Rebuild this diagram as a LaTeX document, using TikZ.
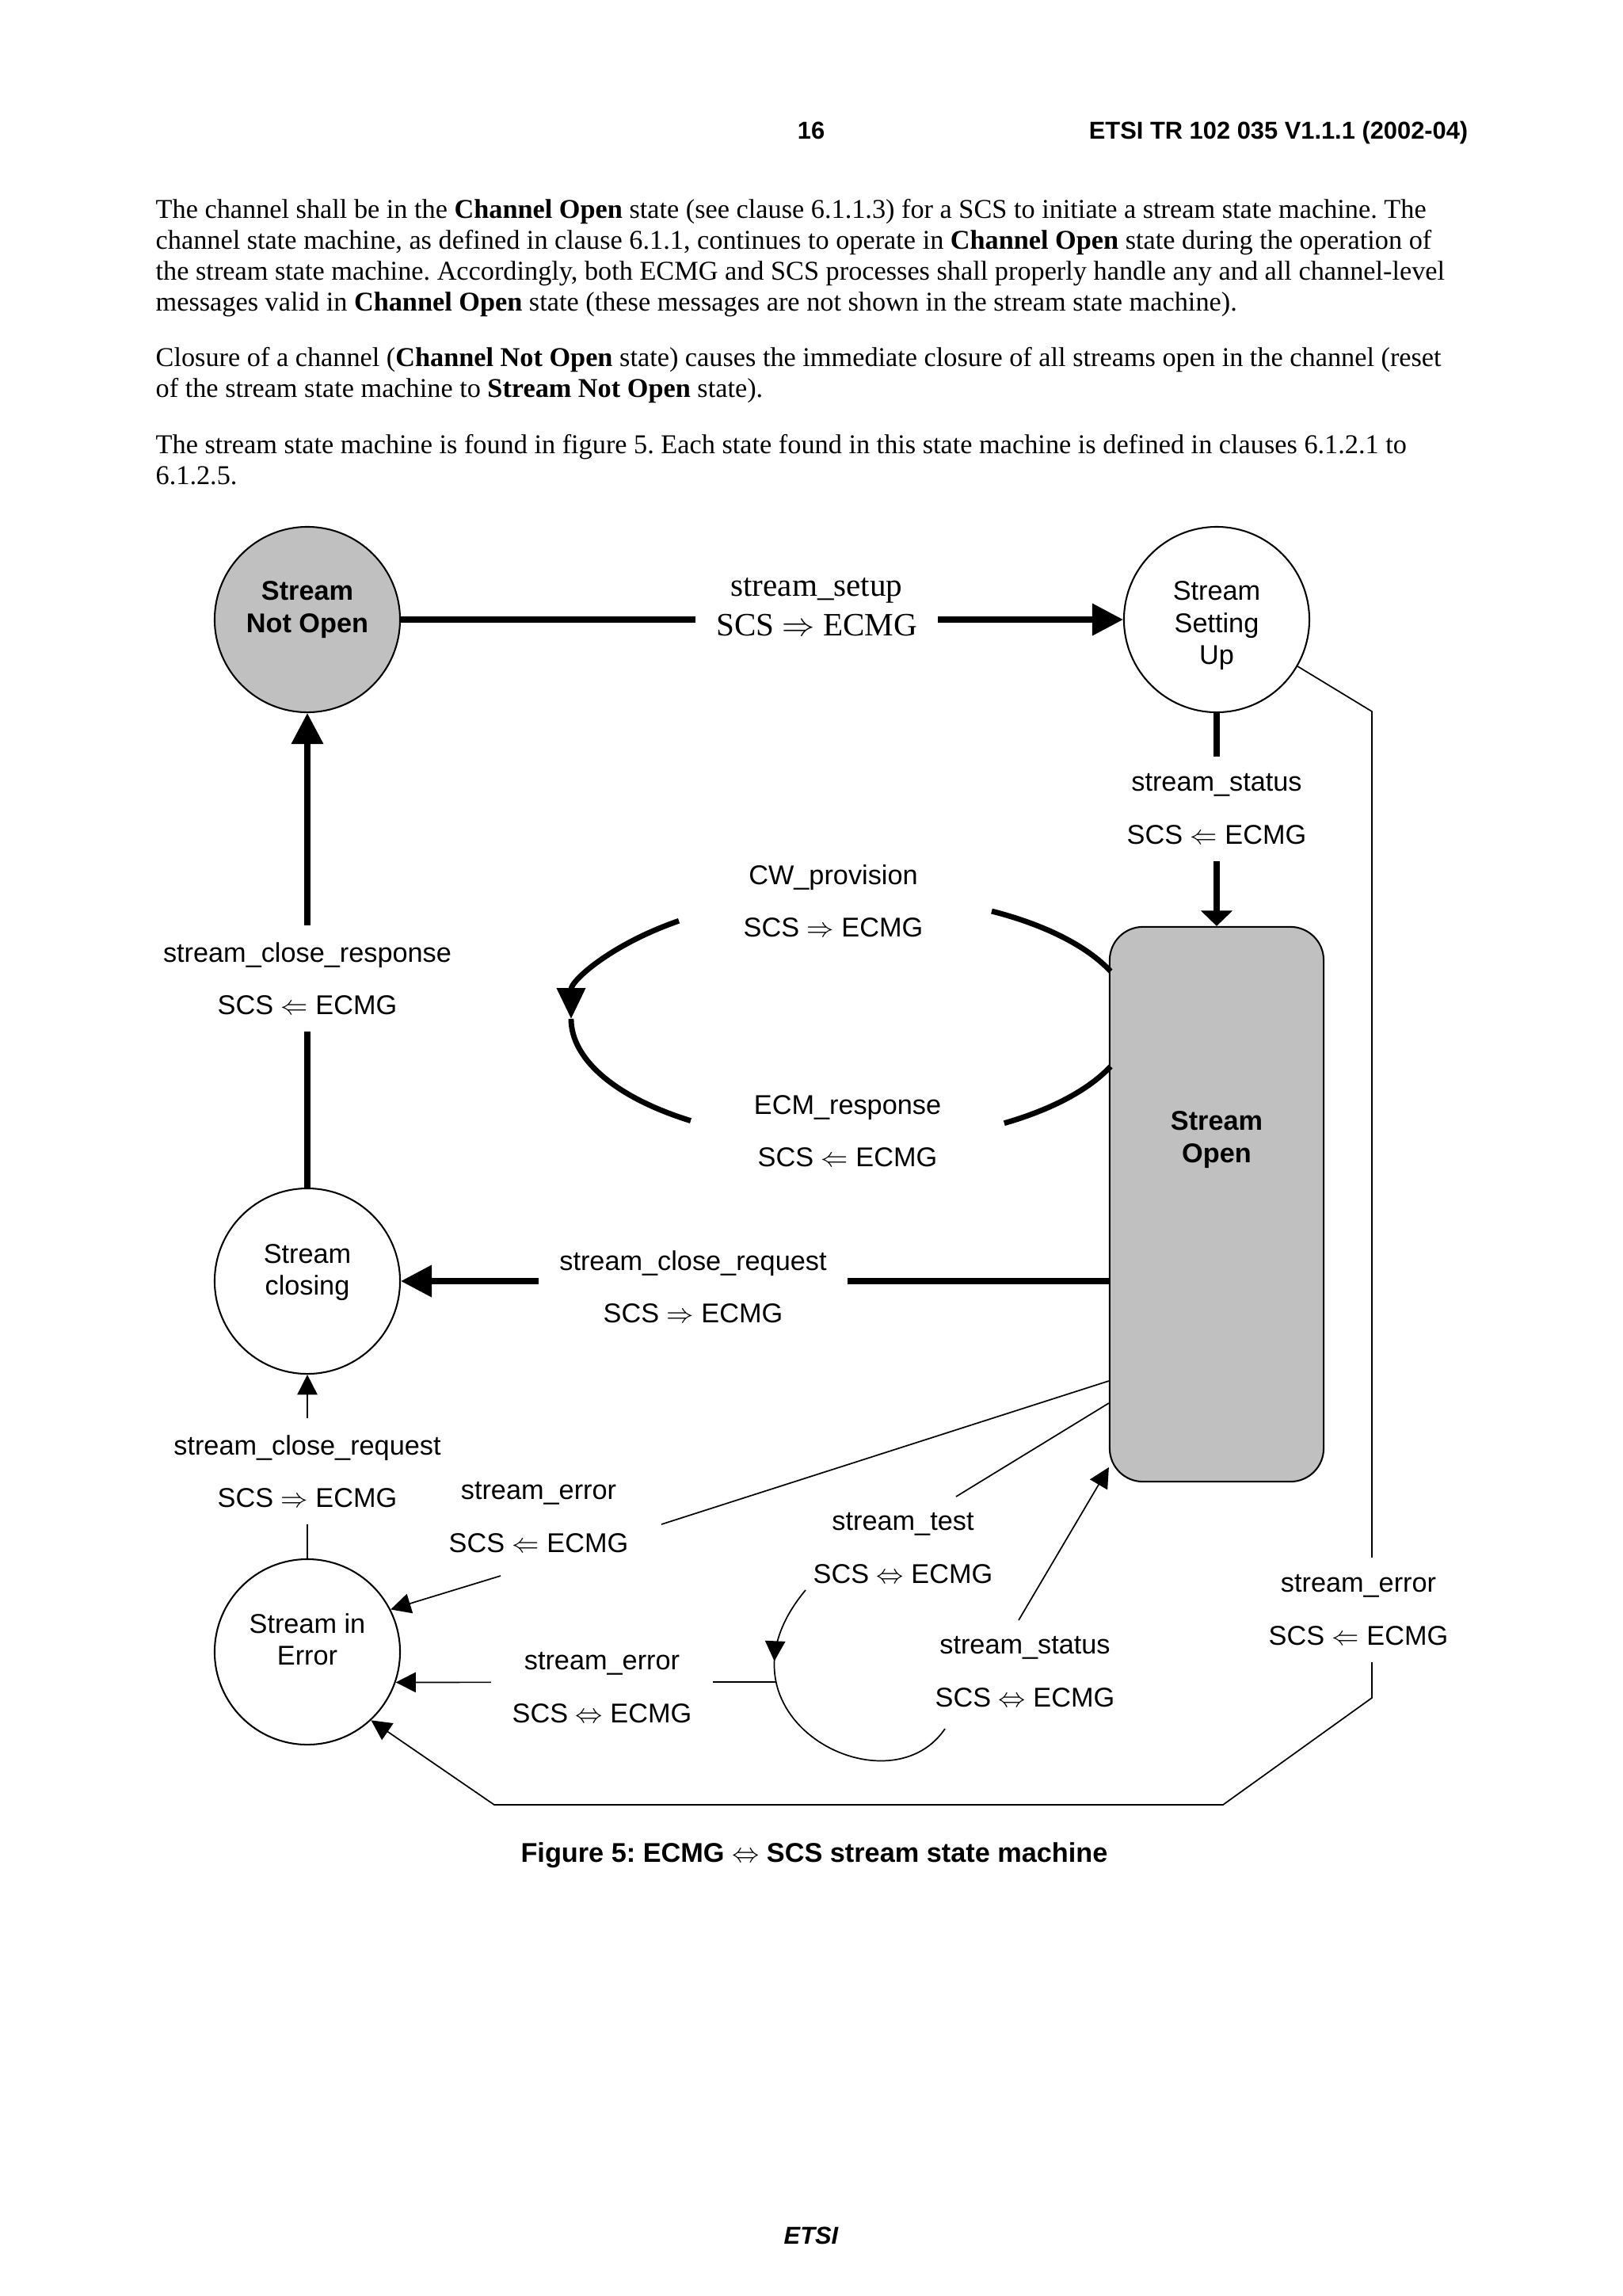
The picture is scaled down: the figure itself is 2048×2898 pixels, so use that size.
\documentclass[tikz,border=0pt]{standalone}
\usepackage{fontspec}
\setmainfont{Liberation Serif}
\setsansfont{Liberation Sans}
\usetikzlibrary{arrows.meta}
\usetikzlibrary{calc}
\usetikzlibrary{decorations.markings}
\frenchspacing
\definecolor{silver}{RGB}{192,192,192}
\tikzset{state/.style={circle, draw, line width=0.6pt, minimum size=24mm, inner sep=0pt}}
\tikzset{txt/.style={align=center, font=\sffamily\fontsize{10}{11.7}\selectfont}}
\tikzset{txtb/.style={txt, font=\sffamily\bfseries\fontsize{10}{11.7}\selectfont}}
\tikzset{msg/.style={
   align=center,
   inner xsep=2.7mm, inner ysep=2.2mm,
   font=\sffamily\fontsize{10}{19.3}\selectfont
}}
\tikzset{onwire/.style={msg, fill=white}}
\tikzset{heavy/.style={line width=2.1pt, -{Triangle[length=4mm, width=4mm]}}}
\tikzset{light/.style={line width=0.5pt, -{Triangle[length=2.6mm, width=2.6mm]}}}
\tikzset{wire/.style={line width=0.5pt}}
\tikzset{body/.style={anchor=base west, inner sep=0pt, font=\fontsize{10}{11.35}\selectfont}}
\tikzset{head/.style={anchor=base, inner sep=0pt, font=\sffamily\bfseries\fontsize{9}{10.8}\selectfont}}

\begin{document}
\begin{tikzpicture}[x=0.10254mm, y=0.10254mm]

    \path[use as bounding box, fill=white] (0,0) rectangle (2048,-2898);

    \node[head] (pageno) at (1024,-175) {16};
    \node[head, anchor=base east] (docref) at (1854,-175) {ETSI TR 102 035 V1.1.1 (2002-04)};

    \node[body] (par1a) at (196,-275) {The channel shall be in the \textbf{Channel Open} state (see clause 6.1.1.3) for a SCS to initiate a stream state machine. The};
    \node[body] (par1b) at (196,-314) {channel state machine, as defined in clause 6.1.1, continues to operate in \textbf{Channel Open} state during the operation of};
    \node[body] (par1c) at (196,-353) {the stream state machine. Accordingly, both ECMG and SCS processes shall properly handle any and all channel-level};
    \node[body] (par1d) at (196,-392) {messages valid in \textbf{Channel Open} state (these messages are not shown in the stream state machine).};
    \node[body] (par2a) at (196,-462) {Closure of a channel (\textbf{Channel Not Open} state) causes the immediate closure of all streams open in the channel (reset};
    \node[body] (par2b) at (196,-501) {of the stream state machine to \textbf{Stream Not Open} state).};
    \node[body] (par3a) at (196,-572) {The stream state machine is found in figure 5. Each state found in this state machine is defined in clauses 6.1.2.1 to};
    \node[body] (par3b) at (196,-611) {6.1.2.5.};

    \node[state, fill=silver, label={[txtb, yshift=1.27mm]center:Stream\\Not Open}] (nopen) at (388,-782) {};
    \node[state, label={[txt, yshift=-0.78mm]center:Stream\\Setting\\Up}] (setup) at (1536,-782) {};
    \node[state, label={[txt, yshift=1.1mm]center:Stream\\closing}] (closing) at (388,-1617) {};
    \node[state, label={[txt, yshift=1.64mm]center:Stream in\\Error}] (err) at (388,-2085) {};
    \node[draw, line width=0.6pt, fill=silver, rounded corners=4.3mm,
          minimum width=27.7mm, minimum height=71.8mm,
          label={[txtb, yshift=8.35mm]center:Stream\\Open}] (open) at (1536,-1520) {};

    \coordinate (cwc) at (1075,-1286);
    \coordinate (errcuta) at (835,-1924);
    \coordinate (errcutb) at (632,-1989);
    \coordinate (testcut) at (1207,-1889);
    \coordinate (looptop) at (1017,-2007);
    \coordinate (loopend) at (1193,-2182);
    \coordinate (loopleft) at (980,-2123);
    \coordinate (statusfoot) at (1286,-2045);
    \coordinate (railtop) at (1732,-898);
    \coordinate (railfoot) at (1732,-2143);
    \coordinate (floorr) at (1544,-2278);
    \coordinate (floorl) at (624,-2278);

    \draw[heavy] (nopen) -- (setup);
    \draw[line width=2.1pt, -{Triangle[length=2mm, width=4mm]}] (setup) -- (open);
    \draw[heavy] (open.west |- closing) -- (closing);
    \draw[heavy] (closing) -- (nopen);
    \draw[light] (err) -- (closing);

    \draw[line width=2pt] ([shift={(22.5:354 and 157)}]cwc) arc[start angle=22.5, end angle=60, x radius=354, y radius=157];
    \draw[line width=2pt, -{Triangle[length=4mm, width=3.6mm]}] ([shift={(128:354 and 157)}]cwc) arc[start angle=128, end angle=180, x radius=354, y radius=157];
    \draw[line width=2pt] ([shift={(180:354 and 157)}]cwc) arc[start angle=180, end angle=235, x radius=354, y radius=157];
    \draw[line width=2pt] ([shift={(303:354 and 157)}]cwc) arc[start angle=303, end angle=337.5, x radius=354, y radius=157];

    \draw[wire] (open.west |- 0,-1743) -- (errcuta);
    \draw[light] (errcutb) -- (err.27);
    \draw[wire] (open.west |- 0,-1771) -- (testcut);
    \draw[wire, postaction={decorate},
          decoration={markings, mark=at position 0.25 with {\arrow{Triangle[length=2.6mm, width=2.6mm]}}}]
          (looptop) .. controls (885,-2165) and (1120,-2290) .. (loopend);
    \draw[light] (statusfoot) -- (open.west |- 0,-1852);
    \draw[light] (loopleft) -- (err.-19);
    \draw[light] (setup.-30) -- (railtop) -- (railfoot) -- (floorr) -- (floorl) -- (err.-47);

    \node[onwire, font=\rmfamily\fontsize{12}{14.6}\selectfont] (lsetup) at (1031,-766) {stream\_setup\\SCS $\Rightarrow$ ECMG};
    \node[onwire] (lstatus) at (1536,-1021) {stream\_status\\SCS $\Leftarrow$ ECMG};
    \node[msg] (lcw) at (1052,-1137) {CW\_provision\\SCS $\Rightarrow$ ECMG};
    \node[msg] (lecm) at (1070,-1428) {ECM\_response\\SCS $\Leftarrow$ ECMG};
    \node[onwire] (lcloseresp) at (388,-1235) {stream\_close\_response\\SCS $\Leftarrow$ ECMG};
    \node[onwire] (lclosereq) at (875,-1624) {stream\_close\_request\\SCS $\Rightarrow$ ECMG};
    \node[onwire] (lclosereqb) at (388,-1857) {stream\_close\_request\\SCS $\Rightarrow$ ECMG};
    \node[msg] (lerrup) at (680,-1915) {stream\_error\\SCS $\Leftarrow$ ECMG};
    \node[msg] (ltest) at (1140,-1954) {stream\_test\\SCS $\Leftrightarrow$ ECMG};
    \node[msg] (lstatusb) at (1294,-2110) {stream\_status\\SCS $\Leftrightarrow$ ECMG};
    \node[onwire] (lerrlow) at (760,-2130) {stream\_error\\SCS $\Leftrightarrow$ ECMG};
    \node[onwire] (lerrright) at (1715,-2032) {stream\_error\\SCS $\Leftarrow$ ECMG};

    \node[head, font=\sffamily\bfseries\fontsize{10}{12}\selectfont] (caption) at (1028,-2350) {Figure 5: ECMG $\Leftrightarrow$ SCS stream state machine};
    \node[head] (footer) at (1024,-2832) {\itshape ETSI};

\end{tikzpicture}
\end{document}
